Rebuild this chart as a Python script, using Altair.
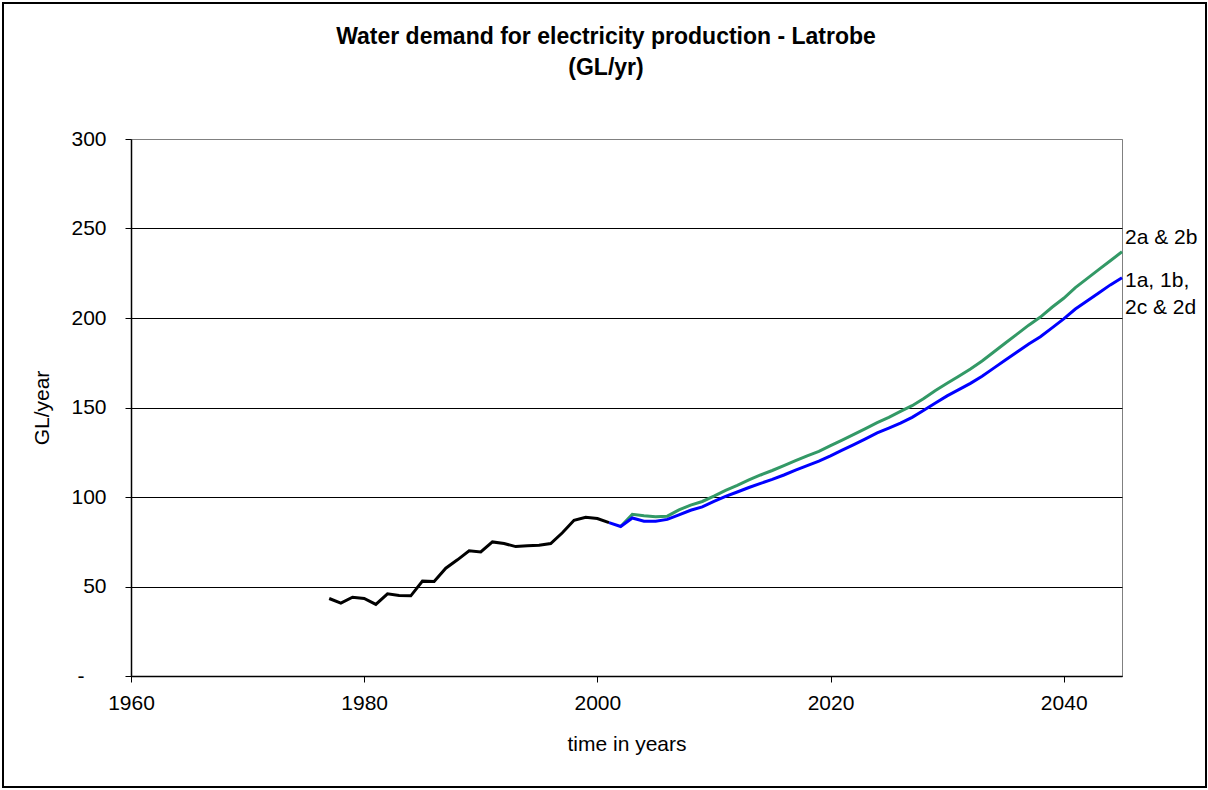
import altair as alt
import pandas as pd

# Historical demand (GL/yr)
hist_years = list(range(1977, 2002))
hist_values = [43.3, 40.7, 44.0, 43.3, 40.0, 45.9, 45.0, 44.8, 53.0, 52.8,
               60.2, 64.9, 69.9, 69.3, 74.9, 74.0, 72.3, 72.8, 73.0, 74.0,
               80.0, 87.0, 88.7, 88.0, 85.7]

# Scenarios 1a, 1b, 2c & 2d
base_years = list(range(2001, 2046))
base_values = [85.7, 83.5, 88.3, 86.5, 86.5, 87.5, 90.0, 92.6, 94.5, 97.5,
               100.3, 102.8, 105.3, 107.6, 109.8, 112.3, 115.0, 117.5, 120.0, 123.0,
               126.2, 129.3, 132.5, 135.8, 138.5, 141.3, 144.5, 148.5, 152.5, 156.5,
               160.0, 163.5, 167.5, 172.0, 176.5, 181.0, 185.5, 189.5, 194.5, 199.5,
               205.0, 209.5, 214.0, 218.5, 222.5]

# Scenarios 2a & 2b
high_years = list(range(2002, 2046))
high_values = [83.5, 90.3, 89.5, 89.0, 89.3, 92.8, 95.5, 97.5, 100.5,
               103.7, 106.5, 109.5, 112.3, 114.8, 117.5, 120.3, 123.0, 125.5, 128.7,
               131.8, 135.0, 138.2, 141.5, 144.5, 147.8, 151.0, 155.0, 159.5, 163.5,
               167.5, 171.5, 176.0, 181.0, 186.0, 191.0, 196.0, 200.5, 206.0, 211.0,
               217.0, 222.0, 227.0, 232.0, 237.0]

# End-of-line scenario labels
label_text = ["2a & 2b", "1a, 1b,", "2c & 2d"]
label_year = [2045, 2045, 2045]
label_value = [244.8, 220.9, 205.8]

title_lines = ["Water demand for electricity production - Latrobe", "(GL/yr)"]

FONT = "Liberation Sans"
FS = 21

hist = pd.DataFrame({"year": hist_years, "value": hist_values, "series": "hist"})
base = pd.DataFrame({"year": base_years, "value": base_values, "series": "base"})
high = pd.DataFrame({"year": high_years, "value": high_values, "series": "high"})
labels = pd.DataFrame({"year": label_year, "value": label_value, "text": label_text})

x_enc = alt.X("year:Q",
              scale=alt.Scale(domain=[1960, 2045], nice=False, zero=False),
              axis=alt.Axis(values=[1960, 1980, 2000, 2020, 2040], format="d",
                            title="time in years", grid=False, labelFlush=False,
                            tickSize=6, tickColor="black", domainColor="black",
                            labelPadding=10, titlePadding=20))
y_enc = alt.Y("value:Q",
              scale=alt.Scale(domain=[0, 300], nice=False),
              axis=alt.Axis(values=[0, 50, 100, 150, 200, 250, 300],
                            title="GL/year", grid=True, labelFlush=False,
                            gridColor=alt.condition("datum.value == 300",
                                                    alt.value("#808080"),
                                                    alt.value("black")),
                            labelExpr="datum.value == 0 ? '-' : datum.label",
                            labelPadding=alt.condition("datum.value == 0",
                                                       alt.value(41),
                                                       alt.value(19)),
                            tickSize=6, tickColor="black", domainColor="black",
                            titlePadding=18))


def line(df, color):
    return alt.Chart(df).mark_line(color=color, strokeWidth=3).encode(x=x_enc, y=y_enc)


def title_text(txt, ypix):
    return alt.Chart(pd.DataFrame({"t": [txt]})).mark_text(
        font=FONT, fontSize=23, fontWeight="bold", color="black",
        align="center", baseline="middle"
    ).encode(x=alt.value(475), y=alt.value(ypix), text="t:N")


frame = alt.Chart(pd.DataFrame({"k": [0]})).mark_rect(
    fill=None, stroke="black", strokeWidth=2
).encode(x=alt.value(-128), x2=alt.value(1075), y=alt.value(-136), y2=alt.value(648))

text = alt.Chart(labels).mark_text(
    align="left", baseline="middle", dx=3, fontSize=FS, font=FONT, color="black"
).encode(x="year:Q", y="value:Q", text="text:N")

chart = alt.layer(
    frame,
    line(high, "#339966"),
    line(base, "#0000FF"),
    line(hist, "#000000"),
    text,
    title_text(title_lines[0], -102),
    title_text(title_lines[1], -71),
).properties(
    width=991,
    height=537,
    background="white",
    autosize=alt.AutoSizeParams(type="none"),
    padding={"left": 131, "top": 139, "right": 86, "bottom": 114},
).configure_view(
    stroke="#808080", strokeWidth=1
).configure_axis(
    labelFont=FONT, titleFont=FONT, labelFontSize=FS, titleFontSize=FS,
    labelColor="black", titleColor="black", titleFontWeight="normal",
    gridWidth=1, domainWidth=1.5,
)

chart.save("out.html", embed_options={"renderer": "svg", "actions": False})
